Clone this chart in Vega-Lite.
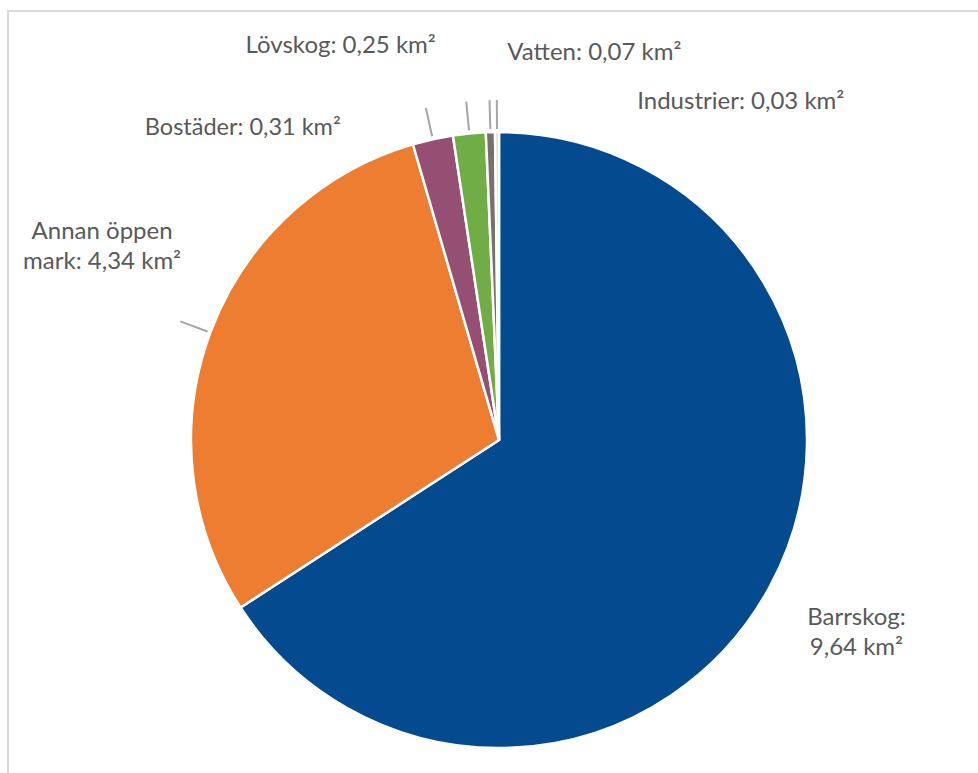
{
  "$schema": "https://vega.github.io/schema/vega-lite/v6.json",
  "autosize": "none",
  "padding": {"left": 8, "top": 11, "right": 0, "bottom": 0},
  "width": 982,
  "height": 858,
  "background": "white",
  "view": {"stroke": "#d9d9d9", "strokeWidth": 2, "fill": "white"},
  "data": {"values": [
    {"cat": "Barrskog", "value": 9.64, "label": "Barrskog:\n9,64 km²"},
    {"cat": "Annan öppen mark", "value": 4.34, "label": "Annan öppen\nmark: 4,34 km²"},
    {"cat": "Bostäder", "value": 0.31, "label": "Bostäder: 0,31 km²"},
    {"cat": "Lövskog", "value": 0.25, "label": "Lövskog: 0,25 km²"},
    {"cat": "Vatten", "value": 0.07, "label": "Vatten: 0,07 km²"},
    {"cat": "Industrier", "value": 0.03, "label": "Industrier: 0,03 km²"}
  ]},
  "encoding": {
    "theta": {"field": "value", "type": "quantitative", "stack": true},
    "order": {"field": "value", "type": "quantitative", "sort": "descending"}
  },
  "layer": [
    {
      "mark": {"type": "arc", "outerRadius": 308, "stroke": "white", "strokeWidth": 2.5},
      "encoding": {
        "color": {"field": "cat", "type": "nominal", "legend": null,
          "scale": {"domain": ["Barrskog", "Annan öppen mark", "Bostäder", "Lövskog", "Vatten", "Industrier"],
                    "range": ["#044a8f", "#ed7d31", "#954f72", "#70ad47", "#767171", "#d9d9d9"]}}
      }
    },
    {
      "mark": {"type": "arc", "innerRadius": 311, "outerRadius": 340, "padAngle": 3.1416, "filled": false, "stroke": "#a6a6a6", "strokeWidth": 2},
      "encoding": {
        "detail": {"field": "cat", "type": "nominal"},
        "strokeOpacity": {"condition": {"test": "datum.cat === 'Barrskog'", "value": 0}, "value": 1}
      }
    },
    {
      "mark": {"type": "text", "radius": 400, "dx": 6, "dy": -13, "font": "Lato", "fontSize": 24, "color": "#595959", "lineBreak": "\n", "lineHeight": 30, "align": "center", "baseline": "middle"},
      "encoding": {
        "detail": {"field": "cat", "type": "nominal"},
        "text": {"condition": {"test": "datum.cat === 'Barrskog'", "field": "label"}, "value": ""}
      }
    },
    {
      "mark": {"type": "text", "radius": 400, "dx": -22, "dy": -69, "font": "Lato", "fontSize": 24, "color": "#595959", "lineBreak": "\n", "lineHeight": 30, "align": "center", "baseline": "middle"},
      "encoding": {
        "detail": {"field": "cat", "type": "nominal"},
        "text": {"condition": {"test": "datum.cat === 'Annan öppen mark'", "field": "label"}, "value": ""}
      }
    },
    {
      "mark": {"type": "text", "radius": 345, "dx": -182, "dy": 25, "font": "Lato", "fontSize": 23.5, "color": "#595959", "align": "center", "baseline": "middle"},
      "encoding": {
        "detail": {"field": "cat", "type": "nominal"},
        "text": {"condition": {"test": "datum.cat === 'Bostäder'", "field": "label"}, "value": ""}
      }
    },
    {
      "mark": {"type": "text", "radius": 345, "dx": -125, "dy": -51, "font": "Lato", "fontSize": 24, "color": "#595959", "align": "center", "baseline": "middle"},
      "encoding": {
        "detail": {"field": "cat", "type": "nominal"},
        "text": {"condition": {"test": "datum.cat === 'Lövskog'", "field": "label"}, "value": ""}
      }
    },
    {
      "mark": {"type": "text", "radius": 345, "dx": 105, "dy": -42, "font": "Lato", "fontSize": 24, "color": "#595959", "align": "center", "baseline": "middle"},
      "encoding": {
        "detail": {"field": "cat", "type": "nominal"},
        "text": {"condition": {"test": "datum.cat === 'Vatten'", "field": "label"}, "value": ""}
      }
    },
    {
      "mark": {"type": "text", "radius": 345, "dx": 244, "dy": 7, "font": "Lato", "fontSize": 24, "color": "#595959", "align": "center", "baseline": "middle"},
      "encoding": {
        "detail": {"field": "cat", "type": "nominal"},
        "text": {"condition": {"test": "datum.cat === 'Industrier'", "field": "label"}, "value": ""}
      }
    }
  ]
}
